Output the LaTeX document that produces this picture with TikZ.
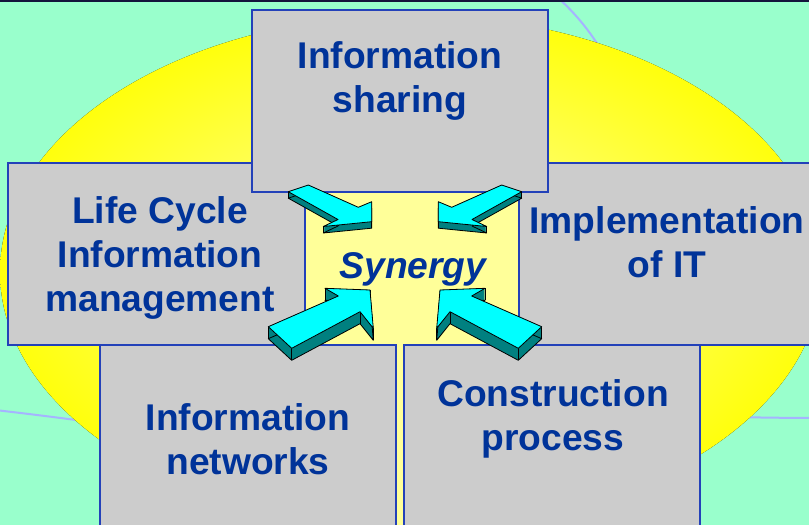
\documentclass[tikz,border=0pt]{standalone}
\usepackage{fontspec}
\setmainfont{Liberation Sans}
\usepackage{tikz}
\usetikzlibrary{positioning, shapes.geometric}
\definecolor{synmint}{RGB}{153,255,204}
\definecolor{synblue}{RGB}{0,51,153}
\definecolor{synline}{RGB}{35,65,185}
\definecolor{syngray}{RGB}{204,204,204}
\definecolor{synpale}{RGB}{255,255,153}
\definecolor{synglow}{RGB}{255,255,170}
\definecolor{syncyan}{RGB}{0,255,255}
\definecolor{synteal}{RGB}{0,128,128}
\definecolor{synorbit}{RGB}{165,180,255}
\definecolor{synrim}{RGB}{20,20,60}
\pgfdeclareradialshading{glow}{\pgfpoint{0bp}{0bp}}{color(0bp)=(synglow); color(27bp)=(yellow); color(50bp)=(yellow)}
\tikzset{
    infobox/.style={rectangle, draw=synline, line width=1.5pt, fill=syngray, inner sep=0pt},
    hubbox/.style={infobox, fill=synpale},
    boxtext/.style={font=\fontsize{37.2}{44}\selectfont\bfseries, text=synblue, align=center, inner sep=0pt},
    arrowtop/.style={fill=syncyan, draw=black, line width=0.8pt, line join=round},
    arrowside/.style={fill=synteal},
    arrowedge/.style={draw=black, line width=0.8pt, line join=round},
    orbit/.style={draw=synorbit, line width=2pt}
}
% 3D block arrow: #1 depth, #2 first corner, #3 other corners
\newcommand{\blockarrow}[3]{%
    \foreach \k in {0,0.5,...,#1}
        \fill[arrowside, shift={(0,\k)}] #2 \foreach \p in {#3}{ -- \p } -- cycle;
    \draw[arrowedge, shift={(0,#1)}] #2 \foreach \p in {#3}{ -- \p } -- cycle;
    \foreach \p in {#2,#3} \draw[arrowedge] \p -- ++(0,#1);
    \path[arrowtop] #2 \foreach \p in {#3}{ -- \p } -- cycle;
}

\begin{document}
\begin{tikzpicture}[x=1pt, y=-1pt]
    \useasboundingbox (0,0) rectangle (809,525);
    \clip (0,0) rectangle (809,525);

    % backdrop
    \fill[synmint] (0,0) rectangle (809,525);
    \draw[orbit] (-5,410) .. controls (30,414) and (70,419) .. (120,426);
    \draw[orbit] (730,417) .. controls (760,417.5) and (790,418) .. (815,418);
    \draw[orbit] (556,-4) .. controls (572,10) and (590,30) .. (604,55);
    \fill[shading=glow] (411,272) ellipse [x radius=411, y radius=257];
    \draw[line width=2.5pt, synrim] (0,1.2) -- (809,1.2);

    % boxes
    \node[hubbox, minimum width=215, minimum height=367] (hub) at (411.5,346.5) {};
    \node[infobox, minimum width=297, minimum height=182] (lifecycle) at (156.5,254) {};
    \node[infobox, minimum width=311, minimum height=182] (implement) at (674.5,254) {};
    \node[infobox, minimum width=296, minimum height=182] (share) at (400,101) {};
    \node[infobox, minimum width=296, minimum height=195] (networks) at (248,442.5) {};
    \node[infobox, minimum width=296, minimum height=195] (construct) at (552,442.5) {};

    % labels
    \node[boxtext] (sharetext) at (400,81) {Information\\sharing};
    \node[boxtext] (lifetext) at (160,258) {Life Cycle\\Information\\management};
    \node[boxtext] (impltext) at (667,242) {Implementation\\of IT};
    \node[boxtext] (nettext) at (248,439) {Information\\networks};
    \node[boxtext] (constext) at (553,419) {Construction\\process};
    \node[boxtext, font=\fontsize{37.2}{44}\selectfont\bfseries\itshape] (synergy) at (413,269) {Synergy};

    % arrows
    \blockarrow{6.5}{(288.3,191.7)}{(308.3,185),(358.3,207.3),(371.7,201.7),(371.7,221.7),(323.3,226.5),(338,219.5)}
    \blockarrow{6.5}{(521.7,191.7)}{(501.7,185),(451.7,207.3),(438.3,201.7),(438.3,221.7),(486.7,226.5),(472,219.5)}
    \blockarrow{12}{(268.3,326.7)}{(338.3,296),(325,288.3),(370,290),(373.3,328.3),(360,311.7),(291.7,348.3)}
    \blockarrow{12}{(541.7,326.7)}{(471.7,296),(485,288.3),(440,290),(436.7,328.3),(450,311.7),(518.3,348.3)}
\end{tikzpicture}
\end{document}
